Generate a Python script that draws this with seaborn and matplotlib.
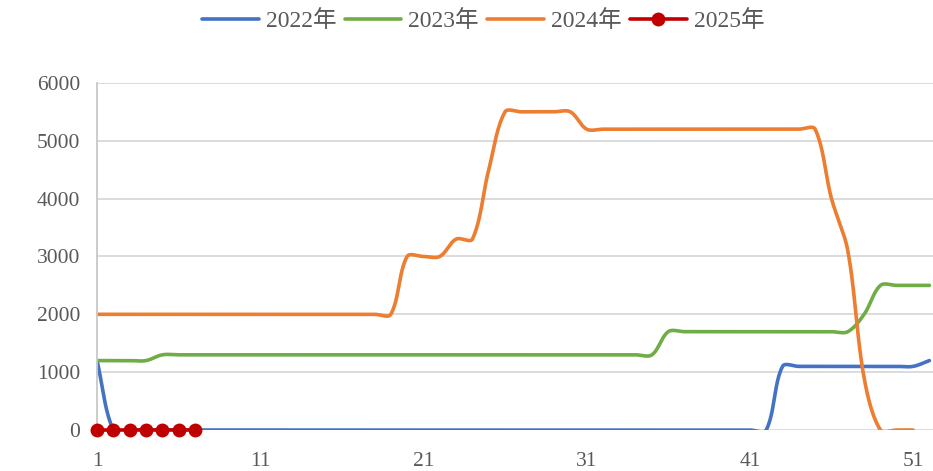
import numpy as np
import matplotlib
matplotlib.use("Agg")
import matplotlib.pyplot as plt
import seaborn as sns

# weekly values (weeks 1..52)
weeks = list(range(1, 53))
v2022 = [1200] + [0] * 41 + [1100] * 9 + [1200]
v2023 = [1200] * 4 + [1300] * 31 + [1700] * 12 + [2000] + [2500] * 4
v2024 = ([2000] * 19 + [3000] * 3 + [3300] * 2 + [4500] + [5500] * 5
         + [5200] * 15 + [4000, 3100, 900, 0, 0, 0])
v2025 = [0] * 7

series = [("2022年", v2022, "#4472C4"),
          ("2023年", v2023, "#70AD47"),
          ("2024年", v2024, "#ED7D31")]

# pixel scale of the chart, used so the smoothing behaves like Excel's
XPX, YPX = 16.32, 57.8 / 1000


def smooth(x, y, n=24):
    # Excel-like smoothed line: Bezier through the points, control arms
    # scaled by neighbouring segment lengths (measured in screen space)
    P = np.column_stack([np.asarray(x, float) * XPX, np.asarray(y, float) * YPX])
    P = np.vstack([P[0], P, P[-1]])
    t = np.linspace(0, 1, n, endpoint=False)[:, None]
    out = []
    for i in range(1, len(P) - 2):
        a, b, c, d = P[i - 1], P[i], P[i + 1], P[i + 2]
        dp = np.linalg.norm(b - a)
        dc = np.linalg.norm(c - b)
        dn = np.linalg.norm(d - c)
        c1 = b + (c - a) * (dc / (dp + dc) if dp + dc else 0) / 3
        c2 = c - (d - b) * (dc / (dc + dn) if dc + dn else 0) / 3
        out.append((1 - t) ** 3 * b + 3 * (1 - t) ** 2 * t * c1
                   + 3 * (1 - t) * t ** 2 * c2 + t ** 3 * c)
    out.append(P[-2][None, :])
    out = np.vstack(out)
    return out[:, 0] / XPX, out[:, 1] / YPX


sns.set_style("white")
plt.rcParams["font.family"] = ["Liberation Serif", "Noto Sans CJK SC"]

fig = plt.figure(figsize=(9.33, 4.71), dpi=100)
ax = fig.add_axes([0.104, 0.087, 0.896, 0.737])

for name, vals, col in series:
    xs, ys = smooth(weeks[:len(vals)], vals)
    sns.lineplot(x=xs, y=ys, color=col, linewidth=2.6, label=name,
                 ax=ax, sort=False, estimator=None, solid_capstyle="round")

sns.lineplot(x=weeks[:len(v2025)], y=v2025, color="#C00000", linewidth=2.6,
             marker="o", markersize=10, markeredgewidth=0, label="2025年",
             ax=ax, clip_on=False, zorder=5)

ax.set_xlim(1, 52.22)
ax.set_ylim(0, 6000)
ax.set_xticks([1, 11, 21, 31, 41, 51])
ax.set_yticks(range(0, 6001, 1000))
ax.yaxis.grid(True, color="#D9D9D9", linewidth=1.3)
ax.set_axisbelow(True)
for s in ["top", "right", "bottom"]:
    ax.spines[s].set_visible(False)
ax.spines["left"].set_color("#C8C8C8")
ax.spines["left"].set_linewidth(1.3)
ax.tick_params(axis="both", length=0, labelsize=15.5, labelcolor="#595959")
ax.tick_params(axis="x", pad=16)
ax.tick_params(axis="y", pad=12)
ax.set_xlabel("")
ax.set_ylabel("")

ax.legend(loc="center", bbox_to_anchor=(0.518, 0.955), bbox_transform=fig.transFigure,
          ncol=4, frameon=False, fontsize=17, handlelength=2.4, handletextpad=0.3,
          columnspacing=0.35, labelcolor="#595959")

fig.savefig("out.png", dpi=100)
